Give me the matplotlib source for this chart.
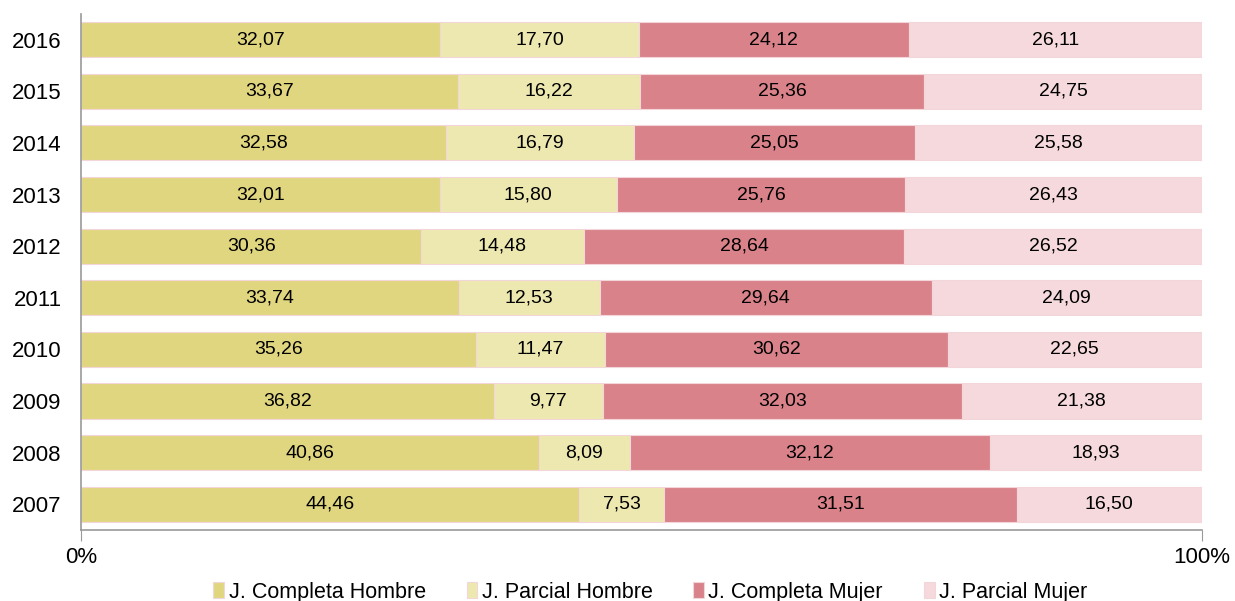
import matplotlib.pyplot as plt
import numpy as np

years = ["2007", "2008", "2009", "2010", "2011", "2012", "2013", "2014", "2015", "2016"]
completa_hombre = [44.46, 40.86, 36.82, 35.26, 33.74, 30.36, 32.01, 32.58, 33.67, 32.07]
parcial_hombre = [7.53, 8.09, 9.77, 11.47, 12.53, 14.48, 15.80, 16.79, 16.22, 17.70]
completa_mujer = [31.51, 32.12, 32.03, 30.62, 29.64, 28.64, 25.76, 25.05, 25.36, 24.12]
parcial_mujer = [16.50, 18.93, 21.38, 22.65, 24.09, 26.52, 26.43, 25.58, 24.75, 26.11]

series = [
    ("J. Completa Hombre", completa_hombre, "#E1D680"),
    ("J. Parcial Hombre", parcial_hombre, "#EDE8B0"),
    ("J. Completa Mujer", completa_mujer, "#D9828A"),
    ("J. Parcial Mujer", parcial_mujer, "#F5D9DC"),
]

plt.rcParams["font.family"] = ["Liberation Sans", "DejaVu Sans"]

fig = plt.figure(figsize=(12.35, 6.01), dpi=100)
ax = fig.add_axes([0.0656, 0.118, 0.9074, 0.859])

y = np.arange(len(years))
left = np.zeros(len(years))
for name, vals, color in series:
    vals = np.array(vals)
    ax.barh(y, vals, left=left, height=0.68, color=color,
            edgecolor="#F2D6D9", linewidth=0.8, label=name)
    for yi, l, v in zip(y, left, vals):
        ax.text(l + v / 2, yi, f"{v:.2f}".replace(".", ","), ha="center", va="center",
                fontsize=14, color="black")
    left += vals

ax.set_xlim(0, 100)
ax.set_ylim(-0.5, 9.5)
ax.set_yticks(y)
ax.set_yticklabels(years, fontsize=16)
ax.set_xticks([0, 100])
ax.set_xticklabels(["0%", "100%"], fontsize=16)
ax.tick_params(axis="y", length=0, pad=14)
ax.tick_params(axis="x", length=8, color="#999999", pad=4, direction="out")

for side in ["top", "right"]:
    ax.spines[side].set_visible(False)
for side in ["left", "bottom"]:
    ax.spines[side].set_color("#999999")
    ax.spines[side].set_linewidth(1.2)

ax.legend(loc="upper center", bbox_to_anchor=(0.508, -0.083), ncol=4, frameon=False,
          fontsize=15.5, handlelength=0.5, handleheight=0.8, handletextpad=0.2,
          columnspacing=1.9, borderaxespad=0)

fig.savefig("out.png", dpi=100)
